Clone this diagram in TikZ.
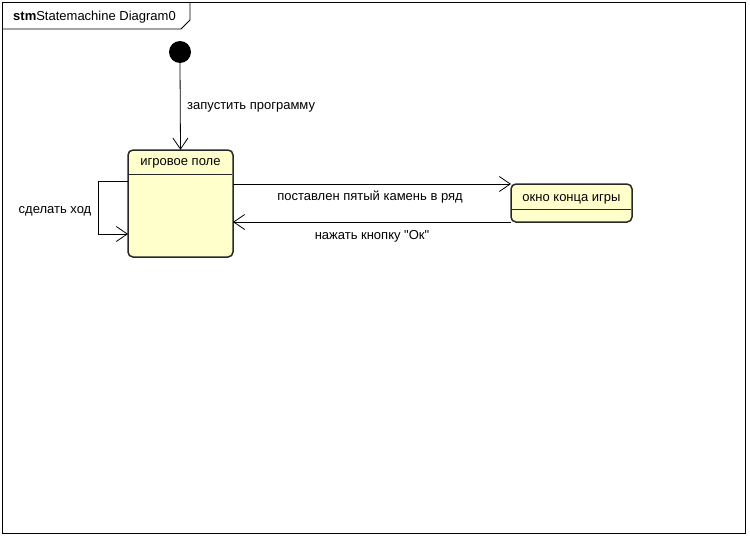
\documentclass[tikz,border=0pt]{standalone}
\usepackage{fontspec}
\setmainfont{Liberation Sans}[Ligatures=TeXOff]
\usetikzlibrary{arrows.meta}
\definecolor{stfill}{RGB}{255,255,204}
\definecolor{stline}{RGB}{40,40,40}
\begin{document}
\begin{tikzpicture}[x=1pt,y=-1pt,
  every node/.style={font=\fontsize{13}{15}\selectfont, inner sep=0pt},
  statebox/.style={draw=stline, fill=stfill, line width=1.5pt, rounded corners=5pt},
  trans/.style={draw=black, line width=0.8pt, -{Straight Barb[length=11pt,width=15pt,line width=0.8pt]}}]
\useasboundingbox (0,0) rectangle (750,536);
% frame
\draw[line width=0.9pt] (2,2) rectangle (745,533);
\draw[line width=0.9pt] (2,29) -- (181,29) -- (190,20) -- (190,2);
\node[anchor=west] (title) at (13,17) {\textbf{stm}Statemachine Diagram0};
% initial
\node[circle, fill=black, minimum size=22pt] (init) at (180,52) {};
% states
\draw[statebox] (128,150) rectangle (233,257);
\node (g) at (180.5,203.5) [minimum width=105pt, minimum height=107pt] {};
\draw[line width=0.8pt, stline] (128.75,174) -- (232.25,174);
\node at (180.5,163.5) {игровое поле};
\draw[statebox] (511,184) rectangle (632,222);
\node (o) at (571.5,203) [minimum width=121pt, minimum height=38pt] {};
\draw[line width=0.8pt, stline] (511.75,209) -- (631.25,209);
\node at (571.5,199.5) {окно конца игры};
% transitions
\draw[trans] (init.south) -- (g.north);
\node[anchor=west] (l1) at (187,107) {запустить программу};
\coordinate (s1) at (128,181);
\coordinate (s2) at (128,234);
\draw[trans] (s1) -- (98,181) -- (98,234) -- (s2);
\node (l2) at (55,211) {сделать ход};
\coordinate (a1) at (233,184);
\coordinate (a2) at (511,184);
\draw[trans] (a1) -- (a2);
\node (l3) at (370,197) {поставлен пятый камень в ряд};
\coordinate (b1) at (511,222);
\coordinate (b2) at (233,222);
\draw[trans] (b1) -- (b2);
\node (l4) at (372,236) {нажать кнопку "Ок"};
\end{tikzpicture}
\end{document}
